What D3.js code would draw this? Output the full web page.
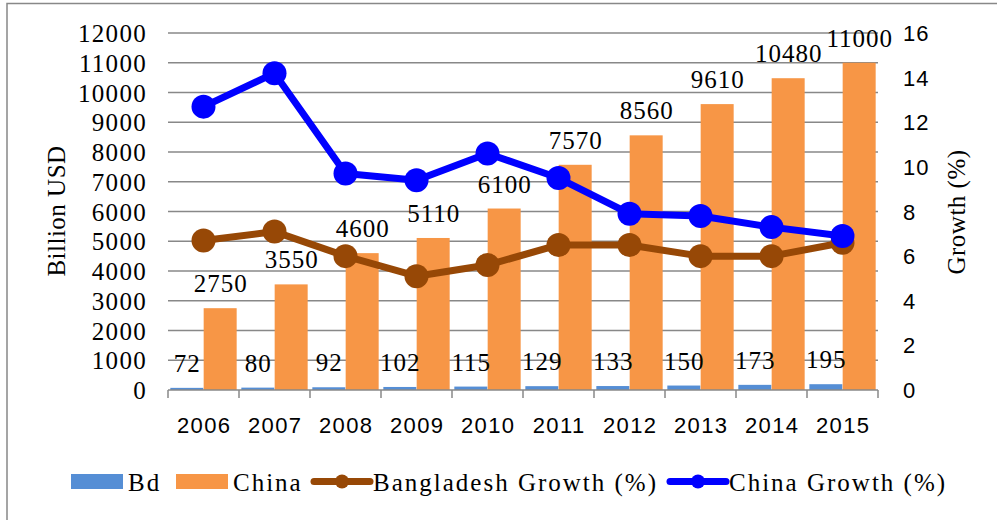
<!DOCTYPE html>
<html>
<head>
<meta charset="utf-8">
<script src="https://cdn.jsdelivr.net/npm/d3@7"></script>
<style>
  body { margin: 0; background: #fff; }
  svg { display: block; }
</style>
</head>
<body>
<div id="chart"></div>
<script>
// chart values
var years = ["2006", "2007", "2008", "2009", "2010", "2011", "2012", "2013", "2014", "2015"];
var bdGdp = [72, 80, 92, 102, 115, 129, 133, 150, 173, 195];
var chinaGdp = [2750, 3550, 4600, 5110, 6100, 7570, 8560, 9610, 10480, 11000];
var bdGrowth = [6.7, 7.1, 6.0, 5.1, 5.6, 6.5, 6.5, 6.0, 6.0, 6.6];
var chinaGrowth = [12.7, 14.2, 9.7, 9.4, 10.6, 9.5, 7.9, 7.8, 7.3, 6.9];
var leftTicks = [0, 1000, 2000, 3000, 4000, 5000, 6000, 7000, 8000, 9000, 10000, 11000, 12000];
var rightTicks = [0, 2, 4, 6, 8, 10, 12, 14, 16];

var serif = "'Liberation Serif', 'Times New Roman', serif";
var sans = "'Liberation Sans', Arial, sans-serif";
var colBd = "#558ED5", colChina = "#F79646", colBdLine = "#974806", colChinaLine = "#0000FF";

var svg = d3.select("#chart").append("svg")
    .attr("width", 997)
    .attr("height", 520);

// outer frame
svg.append("rect")
    .attr("x", 7).attr("y", 3.5)
    .attr("width", 1000).attr("height", 530)
    .attr("fill", "none")
    .attr("stroke", "#888").attr("stroke-width", 1.5);

var x = d3.scaleBand().domain(years).range([168, 878]);
var inner = d3.scaleBand().domain(["bd", "china"]).range([0, x.bandwidth()]).paddingOuter(0.07).paddingInner(0.01);
var yL = d3.scaleLinear().domain([0, 12000]).range([390, 33]);
var yR = d3.scaleLinear().domain([0, 16]).range([390, 33]);

// gridlines
svg.append("g").selectAll("line")
    .data(leftTicks.slice(1))
    .enter().append("line")
    .attr("x1", 168).attr("x2", 878)
    .attr("y1", function (d) { return yL(d); })
    .attr("y2", function (d) { return yL(d); })
    .attr("stroke", "#888").attr("stroke-width", 1.5);

// left axis labels
svg.append("g").selectAll("text")
    .data(leftTicks)
    .enter().append("text")
    .attr("x", 147)
    .attr("y", function (d) { return yL(d) + 9; })
    .attr("text-anchor", "end")
    .style("font-family", serif).style("font-size", "25px")
    .style("letter-spacing", "1.3px")
    .text(function (d) { return d; });

// right axis labels
svg.append("g").selectAll("text")
    .data(rightTicks)
    .enter().append("text")
    .attr("x", 903)
    .attr("y", function (d) { return yR(d) + 8; })
    .style("font-family", sans).style("font-size", "22px")
    .style("letter-spacing", "1px")
    .text(function (d) { return d; });

// bars
var rows = years.map(function (y, i) { return { year: y, bd: bdGdp[i], china: chinaGdp[i] }; });
var groups = svg.append("g").selectAll("g")
    .data(rows)
    .enter().append("g")
    .attr("transform", function (d) { return "translate(" + x(d.year) + ",0)"; });

groups.append("rect")
    .attr("x", inner("bd"))
    .attr("width", inner.bandwidth())
    .attr("y", function (d) { return yL(d.bd); })
    .attr("height", function (d) { return 390 - yL(d.bd); })
    .attr("fill", colBd);

groups.append("rect")
    .attr("x", inner("china"))
    .attr("width", inner.bandwidth())
    .attr("y", function (d) { return yL(d.china); })
    .attr("height", function (d) { return 390 - yL(d.china); })
    .attr("fill", colChina);

// x axis baseline + ticks
svg.append("line")
    .attr("x1", 168).attr("x2", 878)
    .attr("y1", 390).attr("y2", 390)
    .attr("stroke", "#888").attr("stroke-width", 1.5);
svg.append("g").selectAll("line")
    .data(years.concat(["end"]))
    .enter().append("line")
    .attr("x1", function (d) { return d == "end" ? 878 : x(d); })
    .attr("x2", function (d) { return d == "end" ? 878 : x(d); })
    .attr("y1", 390).attr("y2", 398)
    .attr("stroke", "#888").attr("stroke-width", 1.5);

svg.append("g").selectAll("text")
    .data(years)
    .enter().append("text")
    .attr("x", function (d) { return x(d) + x.bandwidth() / 2 + 0.7; })
    .attr("y", 433)
    .attr("text-anchor", "middle")
    .style("font-family", sans).style("font-size", "22px")
    .style("letter-spacing", "1.4px")
    .text(function (d) { return d; });

// lines
function drawLine(values, color) {
    var line = d3.line()
        .x(function (d, i) { return x(years[i]) + x.bandwidth() / 2; })
        .y(function (d) { return yR(d); });
    svg.append("path")
        .datum(values)
        .attr("d", line)
        .attr("fill", "none")
        .attr("stroke", color)
        .attr("stroke-width", 7)
        .attr("stroke-linejoin", "round");
    svg.append("g").selectAll("circle")
        .data(values)
        .enter().append("circle")
        .attr("cx", function (d, i) { return x(years[i]) + x.bandwidth() / 2; })
        .attr("cy", function (d) { return yR(d); })
        .attr("r", 12)
        .attr("fill", color);
}
drawLine(bdGrowth, colBdLine);
drawLine(chinaGrowth, colChinaLine);

// data labels
groups.append("text")
    .attr("x", inner("bd") + inner.bandwidth() / 2 + 0.5)
    .attr("y", function (d) { return yL(d.bd) - 16; })
    .attr("text-anchor", "middle")
    .style("font-family", serif).style("font-size", "25px")
    .style("letter-spacing", "1px")
    .text(function (d) { return d.bd; });

groups.append("text")
    .attr("x", inner("china") + inner.bandwidth() / 2 + 0.5)
    .attr("y", function (d) { return yL(d.china) - 16; })
    .attr("text-anchor", "middle")
    .style("font-family", serif).style("font-size", "25px")
    .style("letter-spacing", "1px")
    .text(function (d) { return d.china; });

// axis titles
svg.append("text")
    .attr("transform", "translate(65,211) rotate(-90)")
    .attr("text-anchor", "middle")
    .style("font-family", serif).style("font-size", "25px")
    .style("letter-spacing", "0.5px")
    .text("Billion USD");

svg.append("text")
    .attr("transform", "translate(965,212) rotate(-90)")
    .attr("text-anchor", "middle")
    .style("font-family", serif).style("font-size", "25px")
    .style("letter-spacing", "0.5px")
    .text("Growth (%)");

// legend
var legend = svg.append("g")
    .style("font-family", serif).style("font-size", "25px")
    .style("letter-spacing", "2px");
legend.append("rect").attr("x", 71).attr("y", 474).attr("width", 52).attr("height", 15).attr("fill", colBd);
legend.append("text").attr("x", 128).attr("y", 491).text("Bd");
legend.append("rect").attr("x", 176).attr("y", 474).attr("width", 52).attr("height", 15).attr("fill", colChina);
legend.append("text").attr("x", 233).attr("y", 491).text("China");

legend.append("line").attr("x1", 314).attr("x2", 370).attr("y1", 481.5).attr("y2", 481.5)
    .attr("stroke", colBdLine).attr("stroke-width", 7).attr("stroke-linecap", "round");
legend.append("circle").attr("cx", 342).attr("cy", 481.5).attr("r", 7).attr("fill", colBdLine);
legend.append("text").attr("x", 373).attr("y", 491).text("Bangladesh Growth (%)");

legend.append("line").attr("x1", 670).attr("x2", 726).attr("y1", 481.5).attr("y2", 481.5)
    .attr("stroke", colChinaLine).attr("stroke-width", 7).attr("stroke-linecap", "round");
legend.append("circle").attr("cx", 698).attr("cy", 481.5).attr("r", 7).attr("fill", colChinaLine);
legend.append("text").attr("x", 729).attr("y", 491).text("China Growth (%)");
</script>
</body>
</html>
